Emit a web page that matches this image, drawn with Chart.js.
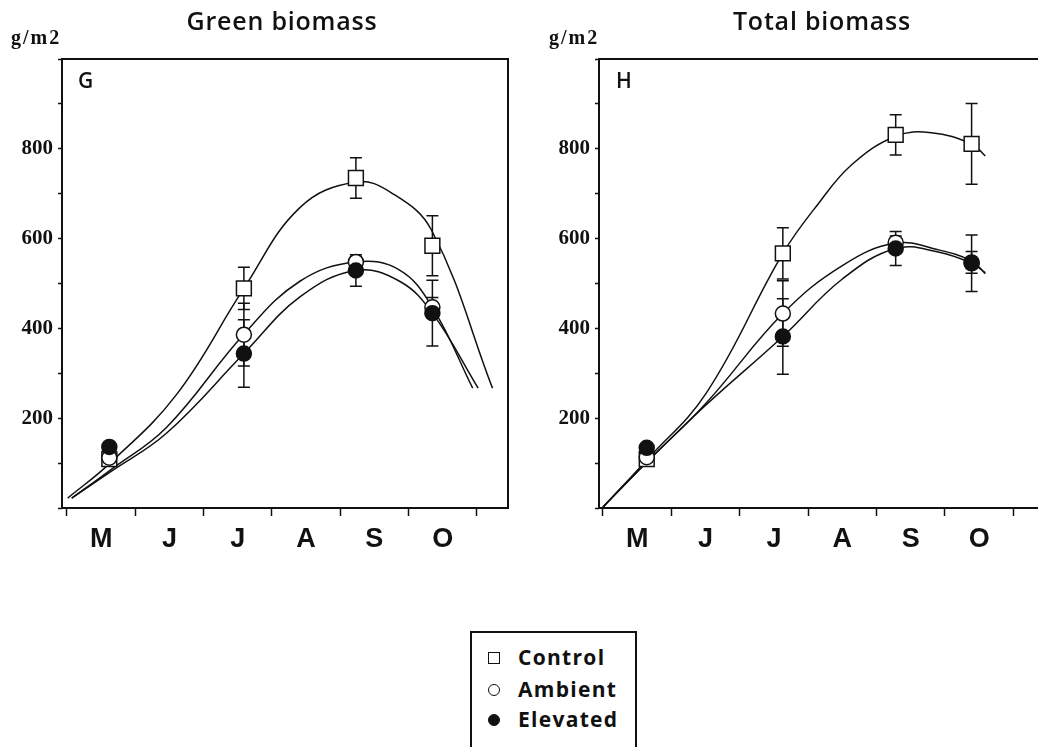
<!DOCTYPE html>
<html lang="en">
<head>
    <meta charset="UTF-8">
    <title>Green biomass / Total biomass</title>
    <script src="https://cdn.jsdelivr.net/npm/chart.js"></script>
    <style>
        body {
            margin: 0;
            width: 1038px;
            height: 747px;
            overflow: hidden;
            position: relative;
            background: #fff;
            color: #111;
            font-family: "Open Sans", sans-serif;
        }
        canvas { position: absolute; top: 0; }
        #greenChart { left: 0; }
        #totalChart { left: 520px; }
        .title {
            position: absolute;
            top: 3px;
            font-size: 25px;
            font-weight: 600;
            letter-spacing: 0.8px;
            transform: translateX(-50%);
            white-space: nowrap;
        }
        .unit {
            position: absolute;
            top: 26px;
            font-family: "Liberation Serif", serif;
            font-weight: bold;
            font-size: 20px;
            letter-spacing: 2px;
        }
        .tag {
            position: absolute;
            top: 66px;
            font-size: 21px;
            font-weight: 600;
        }
        #legend {
            position: absolute;
            left: 470px;
            top: 631px;
            width: 163px;
            height: 140px;
            border: 2px solid #111;
        }
        .item {
            position: absolute;
            left: 46px;
            font-size: 21px;
            font-weight: 700;
            letter-spacing: 1.3px;
            line-height: 24px;
        }
        .mk {
            position: absolute;
            left: -30px;
            top: 7px;
            width: 10px;
            height: 10px;
            border: 1.5px solid #111;
            background: #fff;
        }
        .mk.circle { border-radius: 50%; }
        .mk.filled { background: #111; }
    </style>
</head>
<body>
    <canvas id="greenChart" width="520" height="600"></canvas>
    <canvas id="totalChart" width="540" height="600"></canvas>

    <div class="title" style="left:282px">Green biomass</div>
    <div class="title" style="left:822px">Total biomass</div>
    <div class="unit" style="left:11px">g/m2</div>
    <div class="unit" style="left:549px">g/m2</div>
    <div class="tag" style="left:78px">G</div>
    <div class="tag" style="left:616px">H</div>

    <div id="legend">
        <div class="item" style="top:12px"><span class="mk"></span>Control</div>
        <div class="item" style="top:44px"><span class="mk circle"></span>Ambient</div>
        <div class="item" style="top:74px"><span class="mk circle filled"></span>Elevated</div>
    </div>

    <script>
        // x = months after 1 May
        const months = ['M', 'J', 'J', 'A', 'S', 'O'];
        const xTicks = [0, 0.5, 1, 1.5, 2, 2.5, 3, 3.5, 4, 4.5, 5, 5.5, 6];

        // Green biomass (G)
        const greenDates = [0.62, 2.59, 4.23, 5.35];
        const greenControl = [109, 489, 735, 584];
        const greenControlErr = [0, 47, 45, 67];
        const greenAmbient = [112, 386, 548, 447];
        const greenAmbientErr = [0, 70, 12, 22];
        const greenElevated = [136, 344, 529, 434];
        const greenElevatedErr = [0, 75, 35, 73];

        // fitted curves
        const greenControlFitX = [0.01, 0.63, 1.6, 2.59, 3.41, 4.23, 4.75, 5.34, 6.23];
        const greenControlFitY = [22, 100, 252, 489, 669, 726, 702, 618, 267];
        const greenAmbientFitX = [0.07, 0.63, 1.46, 2.59, 3.41, 4.23, 4.87, 5.35, 5.94];
        const greenAmbientFitY = [22, 84, 180, 387, 505, 548, 530, 447, 267];
        const greenElevatedFitX = [0.07, 0.63, 1.46, 2.59, 3.41, 4.23, 4.87, 5.35, 6.02];
        const greenElevatedFitY = [22, 80, 167, 344, 470, 529, 505, 434, 267];

        // Total biomass (H)
        const totalDates = [0.64, 2.63, 4.28, 5.39];
        const totalControl = [109, 567, 831, 811];
        const totalControlErr = [0, 57, 45, 90];
        const totalAmbient = [113, 433, 591, 547];
        const totalAmbientErr = [0, 73, 15, 24];
        const totalElevated = [134, 382, 578, 545];
        const totalElevatedErr = [0, 84, 38, 63];

        const totalControlFitX = [0, 0.64, 1.51, 2.63, 3.16, 3.64, 4.28, 4.8, 5.39, 5.59];
        const totalControlFitY = [2, 107, 256, 567, 680, 765, 828, 836, 811, 784];
        const totalAmbientFitX = [0, 0.64, 1.51, 2.63, 3.5, 4.28, 4.9, 5.39, 5.59];
        const totalAmbientFitY = [2, 102, 234, 433, 540, 590, 575, 550, 522];
        const totalElevatedFitX = [0, 0.64, 1.51, 2.63, 3.5, 4.28, 4.9, 5.39, 5.59];
        const totalElevatedFitY = [2, 102, 230, 382, 510, 578, 570, 545, 524];

        const ink = '#111';

        const pairs = (xs, ys) => xs.map((x, i) => ({ x: x, y: ys[i] }));

        // box round the plot area
        const frame = {
            id: 'frame',
            beforeDatasetsDraw(chart) {
                const { ctx, chartArea: a } = chart;
                ctx.save();
                ctx.strokeStyle = ink;
                ctx.lineWidth = 2;
                ctx.strokeRect(a.left, a.top, a.right - a.left, a.bottom - a.top);
                ctx.restore();
            }
        };

        // vertical error bars with caps, drawn under the markers
        const errorBars = {
            id: 'errorBars',
            beforeDatasetsDraw(chart) {
                const { ctx, scales: { x, y } } = chart;
                ctx.save();
                ctx.strokeStyle = ink;
                ctx.lineWidth = 1.5;
                chart.data.datasets.forEach(ds => {
                    if (!ds.err) return;
                    ds.data.forEach((p, i) => {
                        const e = ds.err[i];
                        if (!e) return;
                        const px = x.getPixelForValue(p.x);
                        const top = y.getPixelForValue(p.y + e);
                        const bot = y.getPixelForValue(p.y - e);
                        ctx.beginPath();
                        ctx.moveTo(px, top); ctx.lineTo(px, bot);
                        ctx.moveTo(px - 6, top); ctx.lineTo(px + 6, top);
                        ctx.moveTo(px - 6, bot); ctx.lineTo(px + 6, bot);
                        ctx.stroke();
                    });
                });
                ctx.restore();
            }
        };

        function pointSet(dates, vals, err, style, fill) {
            return {
                data: pairs(dates, vals),
                err: err,
                showLine: false,
                pointStyle: style,
                pointRadius: style === 'rect' ? 10.5 : 7.5,
                pointBorderWidth: 1.5,
                pointBorderColor: ink,
                pointBackgroundColor: fill
            };
        }

        function fitSet(xs, ys) {
            return {
                data: pairs(xs, ys),
                showLine: true,
                borderColor: ink,
                borderWidth: 1.5,
                pointRadius: 0,
                tension: 0.4
            };
        }

        function makeChart(id, datasets, yWidth, padRight, xMin, xMax) {
            return new Chart(document.getElementById(id), {
                type: 'scatter',
                data: { datasets: datasets },
                options: {
                    responsive: false,
                    animation: false,
                    events: [],
                    layout: { padding: { top: 59, right: padRight, left: 0, bottom: 0 } },
                    plugins: { legend: { display: false }, tooltip: { enabled: false } },
                    scales: {
                        x: {
                            type: 'linear',
                            min: xMin,
                            max: xMax,
                            afterBuildTicks: axis => { axis.ticks = xTicks.map(v => ({ value: v })); },
                            afterFit: s => { s.height = 92; },
                            border: { display: false },
                            grid: {
                                drawOnChartArea: false,
                                tickLength: 8,
                                tickWidth: 1.5,
                                tickColor: c => Number.isInteger(c.tick.value) ? ink : 'rgba(0,0,0,0)'
                            },
                            ticks: {
                                autoSkip: false,
                                maxRotation: 0,
                                padding: 7,
                                color: ink,
                                font: { family: 'Liberation Sans', weight: 'bold', size: 27 },
                                callback: v => Number.isInteger(v) ? '' : months[Math.floor(v)]
                            }
                        },
                        y: {
                            min: 0,
                            max: 1000,
                            afterFit: s => { s.width = yWidth; },
                            border: { display: false },
                            grid: {
                                drawOnChartArea: false,
                                tickLength: 4,
                                tickWidth: 1.5,
                                tickColor: ink
                            },
                            ticks: {
                                stepSize: 100,
                                padding: 5,
                                color: ink,
                                font: { family: 'Liberation Serif', weight: 'bold', size: 21 },
                                callback: v => (v % 200 === 0 && v > 0 && v < 1000) ? String(v) : ''
                            }
                        }
                    }
                },
                plugins: [frame, errorBars]
            });
        }

        makeChart('greenChart', [
            pointSet(greenDates, greenElevated, greenElevatedErr, 'circle', ink),
            pointSet(greenDates, greenAmbient, greenAmbientErr, 'circle', '#fff'),
            pointSet(greenDates, greenControl, greenControlErr, 'rect', '#fff'),
            fitSet(greenControlFitX, greenControlFitY),
            fitSet(greenAmbientFitX, greenAmbientFitY),
            fitSet(greenElevatedFitX, greenElevatedFitY)
        ], 62, 12, -0.073, 6.457);

        makeChart('totalChart', [
            pointSet(totalDates, totalElevated, totalElevatedErr, 'circle', ink),
            pointSet(totalDates, totalAmbient, totalAmbientErr, 'circle', '#fff'),
            pointSet(totalDates, totalControl, totalControlErr, 'rect', '#fff'),
            fitSet(totalControlFitX, totalControlFitY),
            fitSet(totalAmbientFitX, totalAmbientFitY),
            fitSet(totalElevatedFitX, totalElevatedFitY)
        ], 79, 10, -0.058, 6.507);
    </script>
</body>
</html>
